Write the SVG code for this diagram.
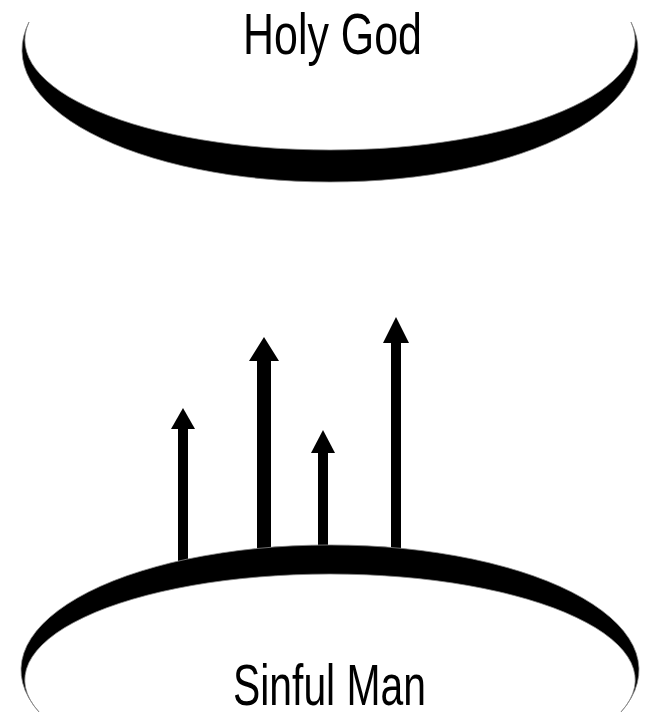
<svg xmlns="http://www.w3.org/2000/svg" width="652" height="724" viewBox="0 0 652 724">
<style>
.band{fill:#000;stroke:#888;stroke-width:0.8}
.lbl{font-family:"Liberation Sans",Arial,sans-serif;font-size:58px;fill:#000}
.shaft{fill:#000}
.head{fill:#000}
</style>
<rect width="652" height="724" fill="#fff"/>
<g id="holy-god">
<path class="band" d="M29,22 A308,132 0 1 0 631,22 A305.1,110 0 1 1 29,22 Z"/>
<text class="lbl" x="243" y="54" textLength="179" lengthAdjust="spacingAndGlyphs">Holy God</text>
</g>
<g id="connectors">
<rect class="shaft" x="178" y="425" width="10" height="145"/>
<polygon class="head" points="183,408 195,429 171,429"/>
<rect class="shaft" x="257" y="357" width="14" height="200"/>
<polygon class="head" points="264,337 279,361 249,361"/>
<rect class="shaft" x="318" y="449" width="10" height="105"/>
<polygon class="head" points="323,430 335,453 311,453"/>
<rect class="shaft" x="391" y="339" width="10" height="215"/>
<polygon class="head" points="396,317 409,343 383,343"/>
</g>
<g id="sinful-man">
<path class="band" d="M39,712 A309,125 0 1 1 621,712 A305.2,106 0 1 0 39,712 Z"/>
<text class="lbl" x="233" y="705" textLength="193" lengthAdjust="spacingAndGlyphs">Sinful Man</text>
</g>
</svg>
